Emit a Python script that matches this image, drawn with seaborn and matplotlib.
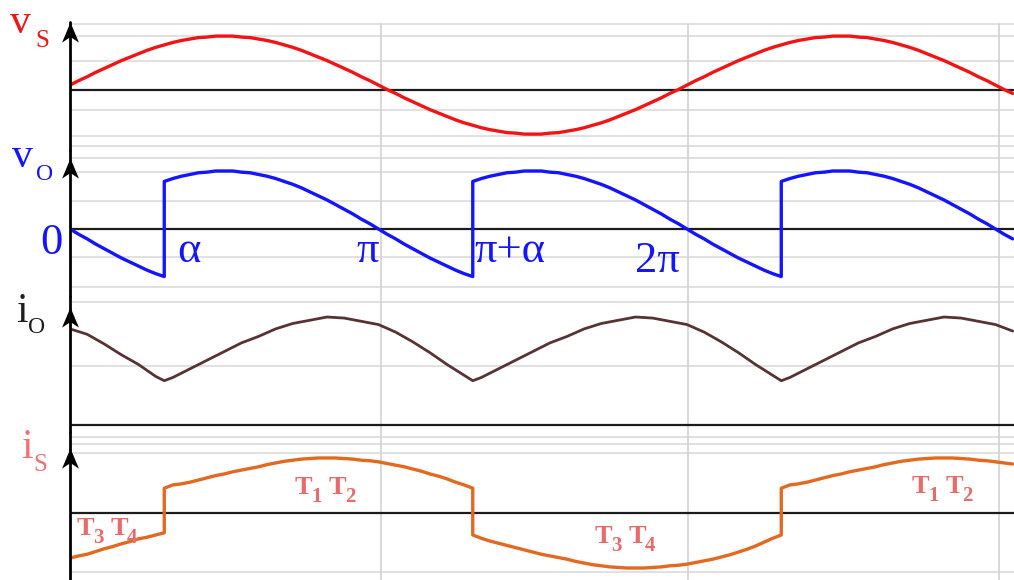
import matplotlib
matplotlib.use("Agg")
import matplotlib.pyplot as plt
import seaborn as sns
from matplotlib.path import Path

# Fine angle grid (degrees) for v_S, v_O and i_S; switching instants
# alpha, pi+alpha, 2pi+alpha appear twice so the jumps are vertical
theta_fine = [0, 5, 10, 15, 20, 25, 30, 35, 40, 45, 50, 55, 55,
              60, 65, 70, 75, 80, 85, 90, 95, 100, 105, 110, 115, 120, 125, 130, 135, 140, 145, 150, 155,
              160, 165, 170, 175, 180, 185, 190, 195, 200, 205, 210, 215, 220, 225, 230, 235, 235,
              240, 245, 250, 255, 260, 265, 270, 275, 280, 285, 290, 295, 300, 305, 310, 315, 320, 325, 330, 335,
              340, 345, 350, 355, 360, 365, 370, 375, 380, 385, 390, 395, 400, 405, 410, 415, 415,
              420, 425, 430, 435, 440, 445, 450, 455, 460, 465, 470, 475, 480, 485, 490, 495, 500, 505, 510, 515,
              520, 525, 530, 535, 540, 545, 550]

# Supply voltage v_S
v_s = [0.10, 0.19, 0.27, 0.36, 0.44, 0.52, 0.60, 0.67, 0.74, 0.81, 0.87, 0.92, 0.92,
       0.97, 1.01, 1.04, 1.07, 1.08, 1.10, 1.10, 1.10, 1.08, 1.07, 1.04, 1.01, 0.97, 0.92, 0.87, 0.81, 0.74, 0.67, 0.60, 0.52,
       0.44, 0.36, 0.27, 0.19, 0.10, 0.01, -0.07, -0.16, -0.24, -0.32, -0.40, -0.47, -0.54, -0.61, -0.67, -0.72, -0.72,
       -0.77, -0.81, -0.84, -0.87, -0.88, -0.90, -0.90, -0.90, -0.88, -0.87, -0.84, -0.81, -0.77, -0.72, -0.67, -0.61, -0.54, -0.47, -0.40, -0.32,
       -0.24, -0.16, -0.07, 0.01, 0.10, 0.19, 0.27, 0.36, 0.44, 0.52, 0.60, 0.67, 0.74, 0.81, 0.87, 0.92, 0.92,
       0.97, 1.01, 1.04, 1.07, 1.08, 1.10, 1.10, 1.10, 1.08, 1.07, 1.04, 1.01, 0.97, 0.92, 0.87, 0.81, 0.74, 0.67, 0.60, 0.52,
       0.44, 0.36, 0.27, 0.19, 0.10, 0.01, -0.07]

# Output voltage v_O
v_o = [0.00, -0.09, -0.17, -0.26, -0.34, -0.42, -0.50, -0.57, -0.64, -0.71, -0.77, -0.82, 0.82,
       0.87, 0.91, 0.94, 0.97, 0.98, 1.00, 1.00, 1.00, 0.98, 0.97, 0.94, 0.91, 0.87, 0.82, 0.77, 0.71, 0.64, 0.57, 0.50, 0.42,
       0.34, 0.26, 0.17, 0.09, 0.00, -0.09, -0.17, -0.26, -0.34, -0.42, -0.50, -0.57, -0.64, -0.71, -0.77, -0.82, 0.82,
       0.87, 0.91, 0.94, 0.97, 0.98, 1.00, 1.00, 1.00, 0.98, 0.97, 0.94, 0.91, 0.87, 0.82, 0.77, 0.71, 0.64, 0.57, 0.50, 0.42,
       0.34, 0.26, 0.17, 0.09, 0.00, -0.09, -0.17, -0.26, -0.34, -0.42, -0.50, -0.57, -0.64, -0.71, -0.77, -0.82, 0.82,
       0.87, 0.91, 0.94, 0.97, 0.98, 1.00, 1.00, 1.00, 0.98, 0.97, 0.94, 0.91, 0.87, 0.82, 0.77, 0.71, 0.64, 0.57, 0.50, 0.42,
       0.34, 0.26, 0.17, 0.09, 0.00, -0.09, -0.17]

# Supply current i_S
i_s = [-0.82, -0.78, -0.75, -0.70, -0.65, -0.61, -0.56, -0.52, -0.47, -0.44, -0.40, -0.36, 0.45,
       0.51, 0.53, 0.56, 0.60, 0.64, 0.68, 0.71, 0.75, 0.78, 0.81, 0.84, 0.88, 0.91, 0.94, 0.96, 0.98, 0.99, 1.00, 1.00, 1.00,
       0.99, 0.98, 0.96, 0.95, 0.93, 0.90, 0.87, 0.84, 0.80, 0.76, 0.71, 0.67, 0.62, 0.56, 0.51, 0.45, -0.40,
       -0.46, -0.51, -0.55, -0.59, -0.63, -0.67, -0.71, -0.75, -0.78, -0.81, -0.84, -0.88, -0.91, -0.94, -0.96, -0.98, -0.99, -1.00, -1.00, -1.00,
       -0.99, -0.98, -0.96, -0.95, -0.93, -0.90, -0.87, -0.84, -0.80, -0.76, -0.71, -0.66, -0.60, -0.53, -0.46, -0.40, 0.45,
       0.51, 0.53, 0.56, 0.60, 0.64, 0.68, 0.71, 0.75, 0.78, 0.81, 0.84, 0.88, 0.91, 0.94, 0.96, 0.98, 0.99, 1.00, 1.00, 1.00,
       0.99, 0.98, 0.96, 0.95, 0.93, 0.91, 0.89]

# Coarser grid for the load current i_O (kinks at each firing instant)
theta = [0, 10, 20, 30, 40, 50, 55, 55,
         60, 70, 80, 90, 100, 110, 120, 130, 140, 150, 160, 170, 180, 190, 200, 210, 220, 230, 235, 235,
         240, 250, 260, 270, 280, 290, 300, 310, 320, 330, 340, 350, 360, 370, 380, 390, 400, 410, 415, 415,
         420, 430, 440, 450, 460, 470, 480, 490, 500, 510, 520, 530, 540, 550]

i_o = [0.89, 0.84, 0.75, 0.65, 0.56, 0.45, 0.41, 0.41,
       0.44, 0.52, 0.60, 0.68, 0.76, 0.82, 0.89, 0.94, 0.97, 1.00, 0.99, 0.96, 0.93, 0.86, 0.77, 0.67, 0.56, 0.46, 0.41, 0.41,
       0.44, 0.52, 0.60, 0.68, 0.76, 0.82, 0.89, 0.94, 0.97, 1.00, 0.99, 0.96, 0.93, 0.86, 0.77, 0.67, 0.56, 0.46, 0.41, 0.41,
       0.44, 0.52, 0.60, 0.68, 0.76, 0.82, 0.89, 0.94, 0.97, 1.00, 0.99, 0.96, 0.93, 0.87]

# Angle labels on the v_O trace
angle_labels = ["α", "π", "π+α", "2π"]
thyristor_labels = [("T", "1", "T", "2"), ("T", "3", "T", "4"), ("T", "3", "T", "4"), ("T", "1", "T", "2")]

sns.set_theme(style="white")
plt.rcParams["font.family"] = ["Liberation Serif", "DejaVu Serif"]

W, H = 1014, 580
X0 = 70            # vertical axis position (px)
PI_PX = 308.5      # pixels per 180 degrees
fig = plt.figure(figsize=(W / 100, H / 100), dpi=100)
theta_max = (W - X0) / PI_PX * 180

# (top px, bottom px, zero-line px, px per unit)
layout = [(18, 150, 90, 49), (150, 296, 229, 58), (296, 432, 425, 108), (432, 580, 513, 55)]
grid_levels = [[1.35, 1.10, 0.59, -0.41, -0.94, -1.14],
               [1.22, 0.98, 0.48, -0.48, -1.00],
               [1.14, 0.55],
               [1.38, 1.25, 1.09, -1.07]]
arrow_tips = [22, 158, 307, 448]
series = [(theta_fine, v_s), (theta_fine, v_o), (theta, i_o), (theta_fine, i_s)]
colors = ["#f21414", "#1414ff", "#583333", "#e2691f"]
widths = [2.4, 2.4, 2.0, 2.4]

arrow = Path([(0, 0), (-0.42, -1.0), (0, -0.72), (0.42, -1.0), (0, 0)],
             [Path.MOVETO, Path.LINETO, Path.LINETO, Path.LINETO, Path.CLOSEPOLY])

axes = []
for (top, bot, zero, unit), levels, tip, (xs, ys), c, lw in zip(layout, grid_levels, arrow_tips,
                                                                 series, colors, widths):
    ax = fig.add_axes([X0 / W, 1 - bot / H, (W - X0) / W, (bot - top) / H])
    ax.set_xlim(0, theta_max)
    ax.set_ylim((zero - bot) / unit, (zero - top) / unit)
    for lv in levels:
        ax.axhline(lv, color="#dcdcdc", lw=1.2, zorder=0)
    vmax = 1.0 if top > 18 else (bot - 24) / (bot - top)
    for g in (181.5, 360.6, 542.0):
        ax.axvline(g, ymax=vmax, color="#d2d2d2", lw=1.2, zorder=0)
    ax.axhline(0, color="#1c1c1c", lw=1.6, zorder=2)
    sns.lineplot(x=xs, y=ys, ax=ax, color=c, lw=lw, estimator=None, sort=False,
                 legend=False, zorder=3, solid_joinstyle="round", solid_capstyle="round")
    tip_val = (zero - tip) / unit
    ax.axvline(0, ymax=(bot - tip) / (bot - top) if top == 18 else 1.0,
               color="black", lw=2.0, clip_on=False, zorder=4)
    ax.plot([0], [tip_val], marker=arrow, ms=29, color="black", mew=0,
            clip_on=False, zorder=5)
    ax.set_axis_off()
    axes.append(ax)

ax_vs, ax_vo, ax_io, ax_is = axes


def ftext(x, y, s, size, color):
    fig.text(x / W, 1 - y / H, s, fontsize=size, color=color, ha="left", va="baseline")


# Trace names
ftext(10, 33, "v", 30, "#f21414")
ftext(35, 47, "S", 18, "#f21414")
ftext(12, 167, "v", 30, "#1414ff")
ftext(36, 180, "O", 17, "#1414ff")
ftext(16, 322, "i", 30, "#1e1e1e")
ftext(28, 333, "O", 17, "#1e1e1e")
ftext(21, 458, "i", 30, "#f07474")
ftext(33, 471, "S", 18, "#f07474")

# Angle markers on v_O
blue = "#1414ff"
ax_vo.text(-4.1, -0.24, "0", fontsize=32, color=blue, ha="right", va="center")
ax_vo.text(62.4, -0.57, angle_labels[0], fontsize=32, color=blue, ha="left", va="baseline")
ax_vo.text(173.9, -0.57, angle_labels[1], fontsize=32, color=blue, ha="center", va="baseline")
ax_vo.text(235.8, -0.57, angle_labels[2], fontsize=32, color=blue, ha="left", va="baseline")
ax_vo.text(343.0, -0.74, angle_labels[3], fontsize=32, color=blue, ha="center", va="baseline")


def thyristor_pair(ax, x, y, parts, color="#e86a6a"):
    t1, s1, t2, s2 = parts
    kw = dict(color=color, fontweight="bold", ha="left", va="bottom")
    prev = ax.text(x, y, t1, fontsize=19, color=color, fontweight="bold", ha="left", va="baseline")
    prev = ax.annotate(s1, xy=(1, 0), xycoords=prev, xytext=(-1.0, -5.7),
                       textcoords="offset points", fontsize=15, **kw)
    prev = ax.annotate(t2, xy=(1, 0), xycoords=prev, xytext=(5.0, 5.7),
                       textcoords="offset points", fontsize=19, **kw)
    ax.annotate(s2, xy=(1, 0), xycoords=prev, xytext=(-1.0, -5.7),
                textcoords="offset points", fontsize=15, **kw)


for (px, py), parts in zip([(131.3, 0.345), (4.1, -0.40), (306.3, -0.545), (491.3, 0.364)],
                           thyristor_labels):
    thyristor_pair(ax_is, px, py, parts)

fig.savefig("out.png", dpi=100)
